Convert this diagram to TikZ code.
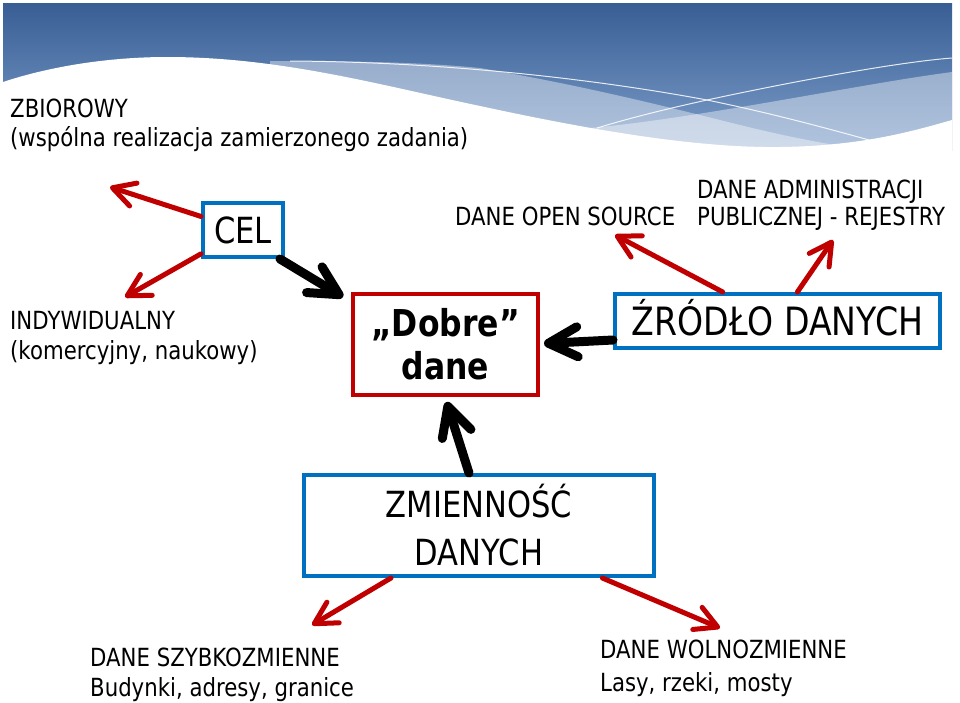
\documentclass[tikz,border=0pt]{standalone}
\usepackage{fontspec}
\setmainfont{DejaVu Sans}[FakeStretch=0.85]
\usetikzlibrary{arrows.meta}
\definecolor{boxblue}{RGB}{0,112,192}
\definecolor{boxred}{RGB}{192,0,0}
\definecolor{bantop}{RGB}{56,94,148}
\definecolor{banbot}{RGB}{125,158,202}
\begin{document}
\begin{tikzpicture}[x=1pt,y=-1pt,
  bluebox/.style={draw=boxblue,line width=4pt,fill=white,inner sep=0pt,align=center},
  redbox/.style={draw=boxred,line width=4pt,fill=white,inner sep=0pt,align=center},
  redarrow/.style={draw=boxred,line width=5pt,line cap=round,-{Straight Barb[length=22pt,width=24pt,round]}},
  blackarrow/.style={draw=black,line width=9pt,line cap=round,-{Straight Barb[length=29pt,width=30pt,round]}},
  lbl/.style={inner sep=0pt,align=left,anchor=north west},
  wline/.style={draw=white,line width=1pt,opacity=.85},
  band/.style={fill=white,opacity=.4}
]
\useasboundingbox (0,0) rectangle (960,702);
\fill[white] (0,0) rectangle (960,702);
% banner
\fill[top color=bantop,bottom color=banbot] (3,3) rectangle (952,150);
\fill[band] (270,61) .. controls (350,61) and (420,62) .. (480,68)
  .. controls (580,85) and (660,105) .. (740,125)
  .. controls (800,140) and (850,148) .. (880,152) -- (270,152) -- cycle;
\fill[band] (590,128) .. controls (700,118) and (860,84) .. (952,72) -- (952,152) -- (590,152) -- cycle;
\fill[white] (0,83) .. controls (50,66) and (110,57) .. (167,57)
  .. controls (280,57) and (380,85) .. (480,106)
  .. controls (600,132) and (700,148) .. (780,147)
  .. controls (860,146) and (910,132) .. (952,120) -- (952,160) -- (0,160) -- cycle;
\draw[wline] (290,61) .. controls (450,62) and (600,80) .. (707,100) .. controls (780,115) and (840,132) .. (880,143);
\draw[wline] (597,128) .. controls (640,115) and (680,106) .. (707,100) .. controls (800,80) and (900,62) .. (952,58);

% labels
\node[lbl,font=\fontsize{25}{29}\selectfont] (zb) at (10,99) {ZBIOROWY\\(wspólna realizacja zamierzonego zadania)};
\node[lbl,font=\fontsize{25}{30}\selectfont] (ind) at (10,311) {INDYWIDUALNY\\(komercyjny, naukowy)};
\node[lbl,font=\fontsize{25}{27}\selectfont] (os) at (455,207) {DANE OPEN SOURCE};
\node[lbl,font=\fontsize{25}{27}\selectfont] (adm) at (697,180) {DANE ADMINISTRACJI\\PUBLICZNEJ - REJESTRY};
\node[lbl,font=\fontsize{25}{30}\selectfont] (szb) at (90,648) {DANE SZYBKOZMIENNE\\Budynki, adresy, granice};
\node[lbl,font=\fontsize{25}{33}\selectfont] (wol) at (600,640) {DANE WOLNOZMIENNE\\Lasy, rzeki, mosty};

% boxes
\node[bluebox,minimum width=80pt,minimum height=54pt,font=\fontsize{36}{40}\selectfont] (cel) at (243,230) {CEL};
\node[redbox,minimum width=185pt,minimum height=101pt,font=\fontsize{37}{43}\selectfont\bfseries] (dobre) at (445.5,344.5) {„Dobre”\\dane};
\node[bluebox,minimum width=325pt,minimum height=54pt,text height=28pt,text depth=0pt,font=\fontsize{39}{43}\selectfont] (zr) at (777.5,321) {ŹRÓDŁO DANYCH};
\node[bluebox,minimum width=350pt,minimum height=101pt,font=\fontsize{36}{48}\selectfont] (zm) at (479,525.5) {ZMIENNOŚĆ\\DANYCH};

% free ends
\coordinate (t1) at (110,187);
\coordinate (t2) at (125,297);
\coordinate (t3) at (615,235);
\coordinate (t4) at (833,240);
\coordinate (t5) at (312,625);
\coordinate (t6) at (720,628);

% red arrows
\draw[redarrow] (cel) -- (t1);
\draw[redarrow] (cel) -- (t2);
\draw[redarrow] (zr) -- (t3);
\draw[redarrow] (zr) -- (t4);
\draw[redarrow] (zm) -- (t5);
\draw[redarrow] (zm) -- (t6);

% black arrows
\draw[blackarrow] ([xshift=-5pt]cel.south east) -- ([xshift=-8pt,yshift=-5pt]dobre.north west);
\draw[blackarrow] ([yshift=-19pt]zr.west) -- ([xshift=4pt,yshift=1pt]dobre.east);
\draw[blackarrow] ([xshift=-10pt]zm.north) -- ([xshift=1pt,yshift=-5pt]dobre.south);
\end{tikzpicture}
\end{document}
